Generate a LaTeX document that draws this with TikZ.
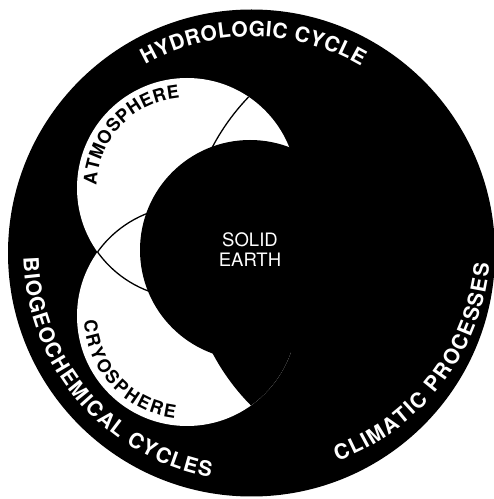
\documentclass[tikz,border=0pt]{standalone}
\usepackage{fontspec}
\setmainfont{TeX Gyre Heros}
\usetikzlibrary{decorations.text}
\tikzset{
  es diagram/.style={x=1pt, y=1pt, line cap=round, line join=round},
  es disc/.style={circle, inner sep=0pt, outer sep=0pt, minimum size=#1},
  es ring/.style={es disc=487pt, fill=black},
  es sphere/.style={es disc=220pt, fill=white},
  es core/.style={es disc=220pt, fill=black},
  es edge/.style={draw=black, line width=1.3pt},
  es label/.style={font=\fontsize{18.5}{20}\selectfont, text=white, align=center},
  es ring text/.style={decorate, decoration={text along path,
    text align=fit to path,
    text={|\fontsize{21}{21}\selectfont\bfseries\color{white}|#1}}},
  es sphere text/.style={decorate, decoration={text along path,
    text align=fit to path,
    text={|\fontsize{18}{18}\selectfont\bfseries|#1}}}
}
\begin{document}
\begin{tikzpicture}[es diagram]
\useasboundingbox (0,0) rectangle (494,499);
\node[es ring] (ring) at (251.5,246) {};
\node[es sphere] (atm) at (187,311) {};
\node[es sphere] (cryo) at (187,183) {};
\coordinate (ocean) at (408,249);
\coordinate (climate) at (258.8,256);
% overlaps of the spheres
\begin{scope}
  \clip (cryo.center) circle[radius=110pt];
  \draw[es edge] (atm.center) circle[radius=110pt];
  \fill[black] (ocean) circle[radius=221pt];
\end{scope}
\begin{scope}
  \clip (atm.center) circle[radius=110pt];
  \draw[es edge] (cryo.center) circle[radius=110pt];
  \draw[es edge] (ocean) circle[radius=221pt];
\end{scope}
\node[es core] (solid) at (250,249) {};
\node[es label] (solidtext) at (solid.center) {SOLID\\EARTH};
% curved labels
\path[es sphere text={ATMOSPHERE}]
  ([shift={(178.3:90.5pt)}]atm.center) arc[start angle=178.3, end angle=94.6, radius=90.5pt];
\path[es sphere text={CRYOSPHERE}]
  ([shift={(182.4:103pt)}]cryo.center) arc[start angle=182.4, end angle=263.2, radius=103pt];
\path[es ring text={HYDROLOGIC CYCLE}]
  ([shift={(119.4:216.5pt)}]ring.center) arc[start angle=119.4, end angle=59.6, radius=216.5pt];
\path[es ring text={BIOGEOCHEMICAL CYCLES}]
  ([shift={(181.2:228pt)}]ring.center) arc[start angle=181.2, end angle=259.6, radius=228pt];
\path[es ring text={CLIMATIC PROCESSES}]
  ([shift={(289.8:231.6pt)}]climate) arc[start angle=289.8, end angle=354.8, radius=231.6pt];
\end{tikzpicture}
\end{document}
